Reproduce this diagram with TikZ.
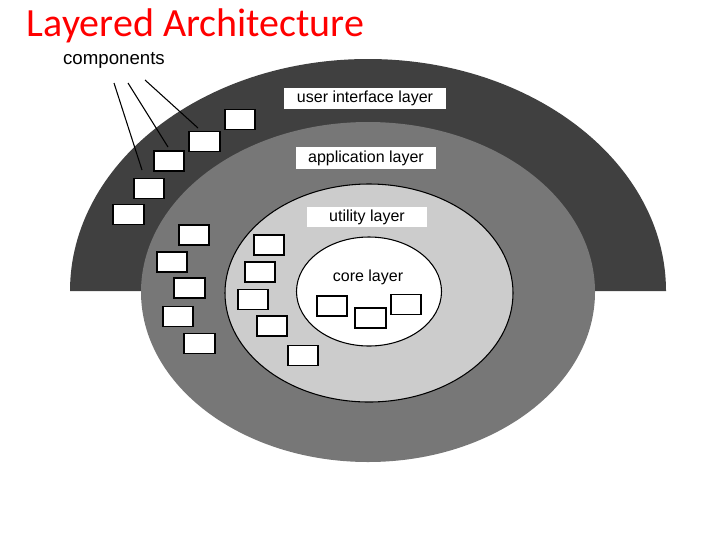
\documentclass[tikz,border=0pt]{standalone}
\usepackage{fontspec}
\setmainfont{Liberation Sans}
\newfontfamily\titlefont{Carlito}
\definecolor{uidark}{RGB}{64,64,64}
\definecolor{appgray}{RGB}{119,119,119}
\definecolor{utilgray}{RGB}{204,204,204}
\tikzset{
    comp/.style={draw=black, fill=white, line width=1.3pt, minimum width=23pt, minimum height=15pt, inner sep=0pt},
    layerlabel/.style={fill=white, font=\fontsize{12}{14}\selectfont, inner sep=0pt},
}
\begin{document}
\begin{tikzpicture}[
    x=0.75pt,y=0.75pt,
    yscale=-1,xscale=1,
    every path/.append style ={line width = 0.8pt,},
]
    \useasboundingbox (0,0) rectangle (720,540);

    % 层
    \fill [uidark] (70,291) arc [start angle=180, end angle=360, x radius=298, y radius=232] -- cycle;
    \fill [appgray] (368,292) ellipse [x radius=227, y radius=170];
    \draw [fill=utilgray] (369,293) ellipse [x radius=144, y radius=109];
    \draw [fill=white] (369,291.5) ellipse [x radius=72.5, y radius=54.5];

    % 文本
    \node [anchor=west, text=red, font=\titlefont\fontsize{30}{34}\selectfont] (title) at (22,26) {Layered Architecture};
    \node [font=\fontsize{14}{16}\selectfont] (complabel) at (114,60) {components};
    \node [layerlabel, minimum width=121pt, minimum height=16pt] (uil) at (365,98.5) {user interface layer};
    \node [layerlabel, minimum width=105pt, minimum height=16pt] (appl) at (366,158) {application layer};
    \node [layerlabel, minimum width=90pt, minimum height=15pt] (utill) at (367,217) {utility layer};
    \node [font=\fontsize{12}{14}\selectfont] (corel) at (368,277) {core layer};

    % 组件
    \foreach \x/\y [count=\i] in {240/119.5, 204.5/141.5, 169/161, 149/188.5, 128.5/214.5,
        194/235, 172/262, 189.5/288, 178/316.5, 199.5/343.5,
        269/245, 260/272, 253/299.5, 272/326, 303/355.5,
        332/306, 370.5/318, 406/304.5}
        \node [comp] (c\i) at (\x,\y) {};

    % 连线
    \coordinate (p1) at (114,83);
    \coordinate (p2) at (128,83);
    \coordinate (p3) at (145,80);
    \coordinate (q1) at (142,170);
    \coordinate (q2) at (168,147);
    \coordinate (q3) at (198,128);
    \draw (p1) -- (q1);
    \draw (p2) -- (q2);
    \draw (p3) -- (q3);
\end{tikzpicture}
\end{document}
